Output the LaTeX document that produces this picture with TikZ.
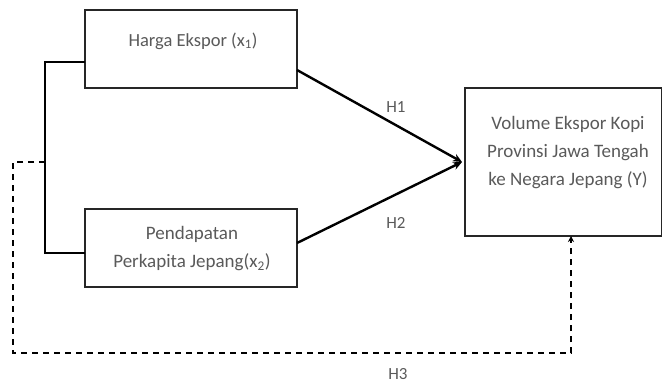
\documentclass[tikz,border=0pt]{standalone}
\usepackage{fontspec}
\setmainfont{Carlito}
\usetikzlibrary{arrows.meta}
\definecolor{txt}{HTML}{5A5A5A}
\begin{document}
\begin{tikzpicture}[x=1pt,y=-1pt,
  box/.style={draw=black!85,line width=1.6pt,fill=white},
  lbl/.style={text=txt,font=\fontsize{19}{28}\selectfont,align=center},
  hlbl/.style={text=txt,font=\fontsize{17}{18}\selectfont},
  solidarrow/.style={line width=2.4pt,-{Stealth[length=9pt,width=8pt]}},
  dasharrow/.style={line width=1.6pt,dash pattern=on 6pt off 5pt,-{Stealth[length=6pt,width=6pt]}},
  bracket/.style={line width=1.6pt}]
\useasboundingbox (0,0) rectangle (662,383);
\path[box] (85,10) rectangle (297,88);
\node[minimum width=212pt,minimum height=78pt,anchor=north west,inner sep=0] (b1) at (85,10) {};
\path[box] (85,209) rectangle (297,287);
\node[minimum width=212pt,minimum height=78pt,anchor=north west,inner sep=0] (b2) at (85,209) {};
\path[box] (465,88) rectangle (662,236);
\node[minimum width=197pt,minimum height=148pt,anchor=north west,inner sep=0] (b3) at (465,88) {};
\node[lbl,font=\fontsize{18.5}{28}\selectfont] (t1) at (193,41) {Harga Ekspor (x\textsubscript{1})};
\node[lbl] (t2) at (192,249) {Pendapatan\\Perkapita Jepang(x\textsubscript{2})};
\node[lbl] (t3) at (568,153) {Volume Ekspor Kopi\\Provinsi Jawa Tengah\\ke Negara Jepang (Y)};
\coordinate (p1) at (297,70);
\coordinate (p2) at (297,243);
\coordinate (tip) at (462,162);
\draw[solidarrow] (p1) -- (tip);
\draw[solidarrow] (p2) -- (tip);
\coordinate (a1) at (85,62);
\coordinate (a2) at (85,253);
\draw[bracket] (a1) -- (45,62) -- (45,253) -- (a2);
\coordinate (d0) at (45,162);
\coordinate (d1) at (571,236);
\draw[dasharrow] (d0) -- (13,162) -- (13,353) -- (571,353) -- (d1);
\node[hlbl] (h1) at (396,107) {H1};
\node[hlbl] (h2) at (396,223) {H2};
\node[hlbl] (h3) at (398,374) {H3};
\end{tikzpicture}
\end{document}
